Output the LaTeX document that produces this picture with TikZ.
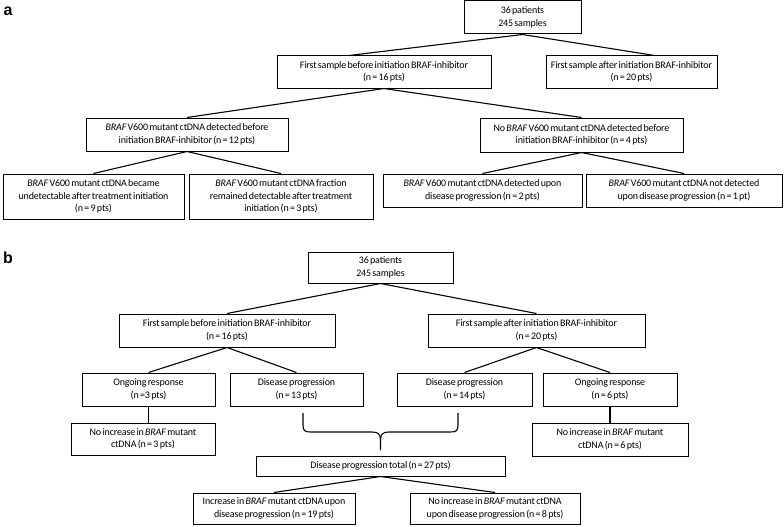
\documentclass[tikz,border=0pt]{standalone}
\usepackage{fontspec}
\setmainfont{Carlito}[WordSpace=0.6,LetterSpace=-1.5]
\newfontfamily\labfont{Liberation Sans}
\begin{document}
\begin{tikzpicture}[x=1pt,y=-1pt,
  box/.style={draw, line width=1pt, rectangle, inner sep=0pt, align=center,
    font=\fontsize{10}{12.4}\selectfont},
  conn/.style={line width=1.1pt},
  panel/.style={font=\labfont\bfseries\fontsize{16}{16}\selectfont, inner sep=0pt}]
\useasboundingbox (0,0) rectangle (784,527);
\fill[white] (0,0) rectangle (784,527);
% panel labels
\node[panel] (la) at (8,11) {a};
\node[panel] (lb) at (8,258) {b};
% ---------- panel a ----------
\node[box, minimum width=117, minimum height=33] (ra) at (522.5,17.5) {36 patients\\245 samples};
\node[box, minimum width=214, minimum height=32] (ba) at (384,72) {First sample before initiation BRAF-inhibitor\\(n = 16 pts)};
\node[box, minimum width=171, minimum height=32] (aa) at (631.5,72) {First sample after initiation BRAF-inhibitor\\(n = 20 pts)};
\node[box, minimum width=202, minimum height=33] (da) at (187,134.5) {\textit{BRAF} V600 mutant ctDNA detected before\\initiation BRAF-inhibitor (n = 12 pts)};
\node[box, minimum width=203, minimum height=34] (na) at (581.5,135) {No \textit{BRAF} V600 mutant ctDNA detected before\\initiation BRAF-inhibitor (n = 4 pts)};
\node[box, minimum width=181, minimum height=45] (a1) at (93.5,196.5) {\textit{BRAF} V600 mutant ctDNA became\\undetectable after treatment initiation\\(n = 9 pts)};
\node[box, minimum width=184, minimum height=45] (a2) at (281,196.5) {\textit{BRAF} V600 mutant ctDNA fraction\\remained detectable after treatment\\initiation (n = 3 pts)};
\node[box, minimum width=199, minimum height=33] (a3) at (482.5,190.5) {\textit{BRAF} V600 mutant ctDNA detected upon\\disease progression (n = 2 pts)};
\node[box, minimum width=196, minimum height=33] (a4) at (684,190.5) {\textit{BRAF} V600 mutant ctDNA not detected\\upon disease progression (n = 1 pt)};
\draw[conn] (ra.south) -- ([xshift=-35]ba.north);
\draw[conn] (ra.south) -- ([xshift=23]aa.north);
\draw[conn] (ba.south) -- (da.north);
\draw[conn] (ba.south) -- (na.north);
\draw[conn] (da.south) -- (a1.north);
\draw[conn] (da.south) -- (a2.north);
\draw[conn] (na.south) -- (a3.north);
\draw[conn] (na.south) -- (a4.north);
% ---------- panel b ----------
\node[box, minimum width=145, minimum height=31] (rb) at (380.5,267.5) {36 patients\\245 samples};
\node[box, minimum width=216, minimum height=33] (bb) at (227,330.5) {First sample before initiation BRAF-inhibitor\\(n = 16 pts)};
\node[box, minimum width=217, minimum height=33] (ab) at (536.5,330.5) {First sample after initiation BRAF-inhibitor\\(n = 20 pts)};
\node[box, minimum width=133, minimum height=33] (o3) at (148.5,389.5) {Ongoing response\\(n =3 pts)};
\node[box, minimum width=133, minimum height=33] (d13) at (296.5,389.5) {Disease progression\\(n = 13 pts)};
\node[box, minimum width=135, minimum height=33] (d14) at (464.5,389.5) {Disease progression\\(n = 14 pts)};
\node[box, minimum width=134, minimum height=33] (o6) at (610,389.5) {Ongoing response\\(n = 6 pts)};
\node[box, minimum width=144, minimum height=32] (n3) at (143,439) {No increase in \textit{BRAF} mutant\\ctDNA (n = 3 pts)};
\node[box, minimum width=156, minimum height=33] (n6) at (610,439.5) {No increase in \textit{BRAF} mutant\\ctDNA (n = 6 pts)};
\node[box, minimum width=249, minimum height=20] (tot) at (380.5,466) {Disease progression total (n = 27 pts)};
\node[box, minimum width=162, minimum height=31] (i19) at (274,508.5) {Increase in \textit{BRAF} mutant ctDNA upon\\disease progression (n = 19 pts)};
\node[box, minimum width=170, minimum height=31] (n8) at (495,508.5) {No increase in \textit{BRAF} mutant ctDNA\\upon disease progression (n = 8 pts)};
\draw[conn] (rb.south) -- (bb.north);
\draw[conn] (rb.south) -- (ab.north);
\draw[conn] (bb.south) -- (o3.north);
\draw[conn] (bb.south) -- (d13.north);
\draw[conn] (ab.south) -- (d14.north);
\draw[conn] (ab.south) -- (o6.north);
\draw[conn] (o3.south) -- (o3.south |- n3.north);
\draw[conn] (o6.south) -- (o6.south |- n6.north);
\draw[conn] (tot.south) -- (i19.north);
\draw[conn] (tot.south) -- (n8.north);
% brace
\coordinate (bl) at (303,413);
\coordinate (br) at (458,413);
\coordinate (bt) at (380.5,450);
\draw[conn] (bl) -- (303,425) .. controls (303,431) and (305,432) .. (311,432)
  -- (372,432) .. controls (378,432) and (380.5,434) .. (380.5,440) -- (bt);
\draw[conn] (br) -- (458,425) .. controls (458,431) and (456,432) .. (450,432)
  -- (389,432) .. controls (383,432) and (380.5,434) .. (380.5,440);
\end{tikzpicture}
\end{document}
